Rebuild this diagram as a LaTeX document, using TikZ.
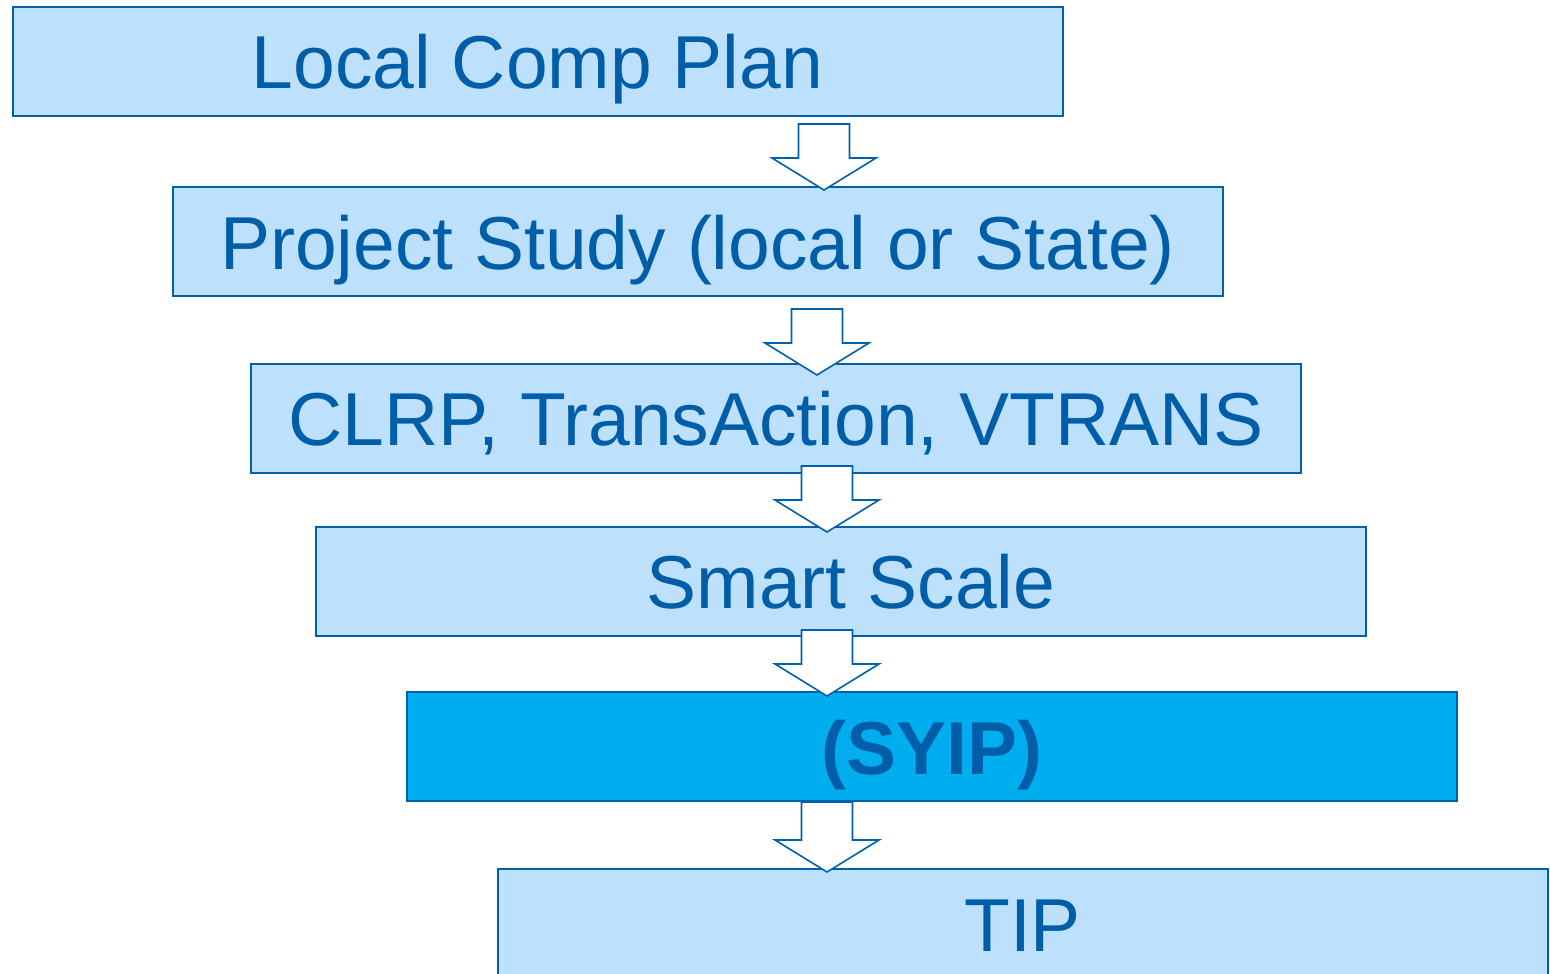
\documentclass[tikz,border=0pt]{standalone}
\usepackage{fontspec}
\setmainfont{Liberation Sans}
\usepackage{tikz}

\definecolor{stagefill}{RGB}{189,225,252}
\definecolor{keyfill}{RGB}{0,174,239}
\definecolor{stageline}{RGB}{0,96,170}
\definecolor{stagetext}{RGB}{0,94,168}

\tikzset{
  stage/.style = {shape=rectangle, draw=stageline, line width=1pt, fill=stagefill,
    text=stagetext, minimum width=525pt, minimum height=54.5pt, inner sep=0pt,
    text height=27.5pt, text depth=0pt, font=\fontsize{37.5}{40}\selectfont},
  keystage/.style = {stage, fill=keyfill, font=\fontsize{37.5}{40}\selectfont\bfseries},
  flowarrow/.pic = {
    \draw[draw=stageline, line width=0.8pt, fill=white, line join=miter]
      (0,0) -- (-52,-32) -- (-25.5,-32) -- (-25.5,-32-#1) -- (25.5,-32-#1)
      -- (25.5,-32) -- (52,-32) -- cycle;
  }
}

\begin{document}
\begin{tikzpicture}[x=0.5pt, y=-0.5pt]
  \useasboundingbox (0,0) rectangle (1550,973);
  % the stages
  \node[stage] (lcp) at (537.5,61.5) {Local Comp Plan};
  \node[stage] (study) at (697.5,241.5) {Project Study (local or State)};
  \node[stage] (clrp) at (776,418) {CLRP, TransAction, VTRANS};
  \node[stage] (smart) at (841,581) {\hspace*{10pt}Smart Scale};
  \node[keystage] (syip) at (932,746.5) {(SYIP)};
  \node[stage] (tip) at (1022.5,923.5) {TIP};
  % the arrows between them
  \pic at (824,190) {flowarrow=34};
  \pic at (817,375) {flowarrow=34};
  \pic at (827,532) {flowarrow=34};
  \pic at (827,696) {flowarrow=34};
  \pic at (827,872) {flowarrow=38};
\end{tikzpicture}
\end{document}
